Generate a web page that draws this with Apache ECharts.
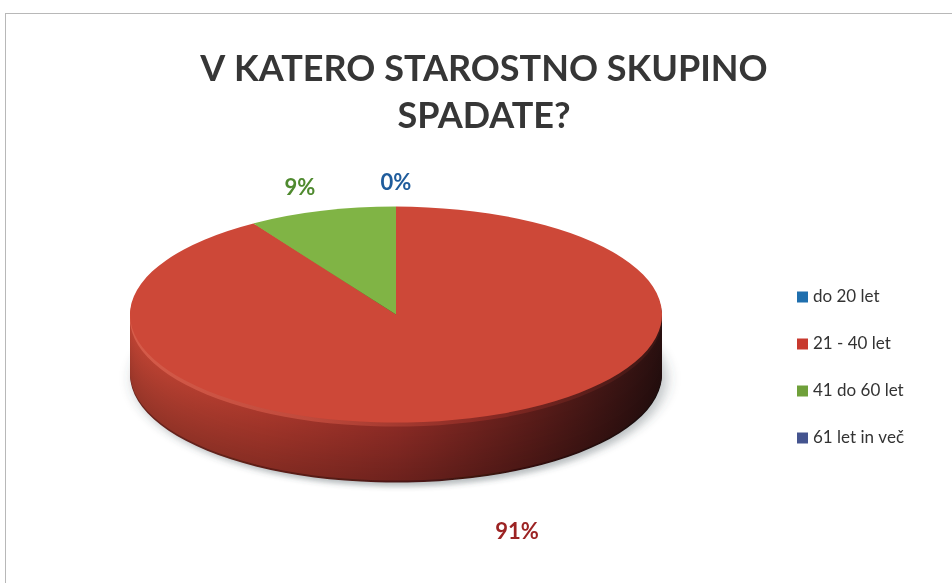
<!DOCTYPE html>
<html><head><meta charset="utf-8">
<script src="https://cdn.jsdelivr.net/npm/echarts@6/dist/echarts.min.js"></script>
<style>
html,body{margin:0;padding:0;background:#fff;overflow:hidden;width:952px;height:583px;position:relative}
#frame{position:absolute;left:5px;top:13px;width:960px;height:600px;border-top:1px solid #b8b8b8;border-left:1px solid #b8b8b8}
#pie{position:absolute;left:0;width:952px;transform-origin:0 0}
#main{position:absolute;left:0;top:0;width:968px;height:583px}
</style></head><body>
<div id="frame"></div><div id="pie"></div><div id="main"></div>
<script>
// ---- data ----
const categories = ['do 20 let', '21 - 40 let', '41 do 60 let', '61 let in več'];
const values = [0, 91, 9, 0];
const titleText = 'V KATERO STAROSTNO SKUPINO\nSPADATE?';

// ---- style ----
const topColors = ['#2f86c6', '#cd4838', '#80b445', '#4b5c9e'];
const legendColors = ['#1f6fae', '#c8392e', '#6fa03a', '#44548f'];
const labelColors = ['#1f5c9c', '#9c2323', '#4f8a2f', '#1f5c9c'];
const sideStops = [
  ['#2a6fa8', '#1f5a8c', '#174a78', '#0e2e4c'],
  ['#c04434', '#ab382c', '#8c2b25', '#5e1d1a', '#2a1010'],
  ['#6f9e3a', '#587f2c', '#3c5a1c', '#1e2e0e'],
  ['#44548f', '#34427a', '#222c55', '#10162c']
];
const rimStops = [
  ['#4a98d0', '#2a6fa8', '#123a5a'],
  ['#d65c4a', '#c04a3c', '#8a2a24', '#3a1614'],
  ['#96c460', '#6f9e3a', '#2c4214'],
  ['#5e6eb0', '#44548f', '#161e3c']
];

// geometry of the tilted disc
const CX = 396, CY = 315, RX = 266, RY = 108, DEPTH = 60;
const K = RY / RX;
const CYL = RX + 4;
const pieDiv = document.getElementById('pie');
pieDiv.style.top = (CY - K * CYL) + 'px';
pieDiv.style.height = (CYL + RX + DEPTH / K + 30) + 'px';
pieDiv.style.transform = 'scaleY(' + K + ')';

function darken(hex, f) {
  const c = echarts.color.parse(hex);
  return 'rgb(' + [0, 1, 2].map(q => Math.round(c[q] * (1 - f))).join(',') + ')';
}
function grad(stops, dark) {
  const n = stops.length;
  return new echarts.graphic.LinearGradient(0, 0, 1, 0,
    stops.map((c, idx) => ({ offset: idx / (n - 1), color: darken(c, dark || 0) })));
}

const N = 30;
const pieSeries = [];
for (let j = N; j >= 0; j--) {
  const off = j * DEPTH / N / K;
  const data = categories.map((name, i) => {
    let color;
    if (j === 0) color = topColors[i];
    else if (j <= 2) color = grad(rimStops[i]);
    else color = grad(sideStops[i], j === N ? 0.45 : (j / N) * 0.22);
    return { name, value: values[i], itemStyle: { color } };
  });
  const s = {
    type: 'pie', radius: RX, center: [CX, CYL + off], startAngle: 90, clockwise: true,
    silent: true, animation: false, label: { show: false }, labelLine: { show: false },
    itemStyle: { borderWidth: 0 }, data
  };
  if (j === N) {
    s.itemStyle = { borderWidth: 0, shadowColor: 'rgba(60,70,80,0.35)', shadowBlur: 14, shadowOffsetX: 4, shadowOffsetY: 10 };
  }
  pieSeries.push(s);
}
const pieChart = echarts.init(pieDiv, null, { renderer: 'svg' });
pieChart.setOption({ animation: false, series: pieSeries });

// ---- main layer: title, legend, labels ----
const total = values.reduce((a, b) => a + b, 0);
const main = echarts.init(document.getElementById('main'));
main.setOption({
  animation: false,
  title: {
    text: titleText, left: 'center', top: 46, padding: 0,
    textStyle: { fontFamily: 'Lato', fontWeight: 'bold', fontSize: 36, color: '#363636', lineHeight: 47 }
  },
  legend: {
    orient: 'vertical', left: 797, top: 287, padding: 0, itemGap: 27,
    icon: 'rect', itemWidth: 11, itemHeight: 11,
    textStyle: { fontFamily: 'Lato', fontSize: 17, color: '#333333', lineHeight: 20 },
    data: categories.map((name, i) => ({ name, itemStyle: { color: legendColors[i] } }))
  },
  series: [{
    type: 'pie', radius: [0, 0], center: [CX, CY], startAngle: 90, clockwise: true,
    percentPrecision: 0, silent: true,
    label: { show: true, position: 'outside', formatter: '{d}%', fontFamily: 'Lato', fontWeight: 'bold', fontSize: 22 },
    labelLine: { show: false },
    labelLayout: function (p) {
      const i = p.dataIndex;
      let before = 0;
      for (let m = 0; m < i; m++) before += values[m];
      const th = (before + values[i] / 2) / total * Math.PI * 2;
      const sn = Math.sin(th), cs = Math.cos(th);
      const persp = 1 - 0.12 * cs;
      return {
        x: CX + 389 * persp * sn,
        y: CY - 150 * persp * cs + (cs < 0 ? DEPTH - 4 : 0),
        align: 'center', verticalAlign: 'middle', hideOverlap: true
      };
    },
    data: categories.map((name, i) => ({
      name, value: values[i],
      itemStyle: { color: legendColors[i] },
      label: { color: labelColors[i] }
    }))
  }]
});
</script></body></html>
